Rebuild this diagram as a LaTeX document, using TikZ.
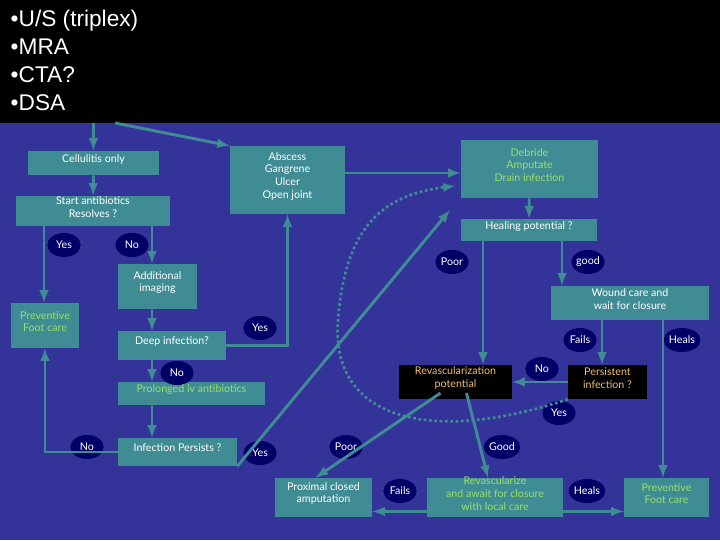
\documentclass[tikz,border=0pt]{standalone}
\usepackage{fontspec}
\setmainfont{Lato}
\setsansfont{Liberation Sans}
\usetikzlibrary{shapes, calc, arrows, fit, positioning}
\definecolor{slidebg}{RGB}{51,51,153}
\definecolor{boxteal}{RGB}{64,140,148}
\definecolor{ovalnavy}{RGB}{0,0,102}
\definecolor{txtgreen}{RGB}{153,224,102}
\definecolor{txtorange}{RGB}{240,190,110}

\begin{document}
\begin{tikzpicture}[x=0.75pt, y=-0.75pt, >=latex, font=\fontsize{8}{9.5}\selectfont,
    box/.style={draw=none, fill=boxteal, text=white, inner sep=0pt, align=center},
    gbox/.style={box, text=txtgreen},
    dark/.style={box, fill=black, text=txtorange},
    oval/.style={ellipse, fill=ovalnavy, text=white, minimum width=25pt, minimum height=18pt, inner sep=0pt},
    flow/.style={draw=boxteal, line width=2.2pt},
    loop/.style={draw=boxteal, line width=2pt, dotted}]
    \useasboundingbox (0,0) rectangle (720,540);
    \fill[slidebg] (0,0) rectangle (720,540);
    \node[fill=black, inner sep=0pt, fit={(0,0) (720,123)}] (hdr) {};
    \node[anchor=north west, align=left, text=white, font=\sffamily\fontsize{17}{21}\selectfont] (tests) at (6,5)
        {•U/S (triplex)\\•MRA\\•CTA?\\•DSA};

    % boxes
    \node[box, fit={(28,151) (159,175)}] (cell) {Cellulitis only};
    \node[box, fit={(16,196) (170,226)}] (start) {Start antibiotics\\Resolves ?};
    \node[box, fit={(230,146) (345,214)}] (abs) {Abscess\\Gangrene\\Ulcer\\Open joint};
    \node[gbox, fit={(461,140) (598,198)}] (deb) {Debride\\Amputate\\Drain infection};
    \node[box, fit={(461,219) (597,241)}] (heal) {Healing potential ?};
    \node[box, fit={(551,286) (709,320)}] (wound) {Wound care and\\wait for closure};
    \node[box, fit={(118,264) (197,309)}] (addimg) {Additional\\imaging};
    \node[gbox, fit={(11,303) (79,348)}] (prevL) {Preventive\\Foot care};
    \node[box, fit={(118,331) (226,360)}] (deep) {Deep infection?};
    \node[gbox, fit={(118,382) (265,405)}] (ivab) {Prolonged iv antibiotics};
    \node[box, fit={(118,438) (237,466)}] (inf) {Infection Persists ?};
    \node[dark, fit={(399,365) (512,399)}] (rpot) {Revascularization\\potential};
    \node[dark, fit={(568,365) (647,399)}] (pinf) {Persistent\\infection ?};
    \node[box, fit={(275,478) (372,517)}] (prox) {Proximal closed\\amputation};
    \node[gbox, fit={(427,478) (563,517)}] (revz) {Revascularize\\and await for closure\\with local care};
    \node[gbox, fit={(624,478) (709,517)}] (prevR) {Preventive\\Foot care};

    % answers
    \node[oval] (yes1) at (64,245) {Yes};
    \node[oval] (no1) at (132,245) {No};
    \node[oval] (poor1) at (452,262) {Poor};
    \node[oval] (good1) at (588,262) {good};
    \node[oval] (yes2) at (260,328) {Yes};
    \node[oval] (no2) at (177,373) {No};
    \node[oval] (fails1) at (580,340) {Fails};
    \node[oval] (heals1) at (682,340) {Heals};
    \node[oval] (no3) at (542,369) {No};
    \node[oval] (yes3) at (559,413) {Yes};
    \node[oval] (no4) at (87,447) {No};
    \node[oval] (yes4) at (260,453) {Yes};
    \node[oval] (poor2) at (346,447) {Poor};
    \node[oval] (good2) at (502,447) {Good};
    \node[oval] (fails2) at (400,491) {Fails};
    \node[oval] (heals2) at (587,491) {Heals};

    \coordinate (cA) at (44,0);
    \coordinate (cB) at (152,0);
    \coordinate (cE) at (483,0);
    \coordinate (cF) at (562,0);
    \coordinate (cG) at (602,0);
    \coordinate (cH) at (663,0);
    \coordinate (hdrout) at (115,123);
    \coordinate (dbtip) at (450,210);
    \coordinate (looptip) at (455,186);

    % connectors
    \draw[flow, ->] (hdr.south -| cell.north) -- (cell.north);
    \draw[flow, ->] (hdrout) -- (abs.north west);
    \draw[flow, ->] (cell) -- (start);
    \draw[flow, ->] (start.south -| cA) -- (prevL.north -| cA);
    \draw[flow, ->] (start.south -| cB) -- (addimg.north -| cB);
    \draw[flow, ->] (addimg.south -| cB) -- (deep.north -| cB);
    \draw[flow, ->] (deep.east) -| (abs.south);
    \draw[flow, ->] (deep.south -| cB) -- (ivab.north -| cB);
    \draw[flow, ->] (ivab.south -| cB) -- (inf.north -| cB);
    \draw[flow, ->] (inf.west) -| (prevL.south);
    \draw[flow, ->] (inf.south east) -- (dbtip);
    \draw[flow, ->] ([shift={(0,-7)}]abs.east) -- ([shift={(0,-7)}]abs.east -| deb.west);
    \draw[loop, ->] (pinf.south west) .. controls (430,445) and (330,420) .. (338,320)
        .. controls (345,230) and (380,195) .. (looptip);
    \draw[flow, ->] (deb) -- (heal);
    \draw[flow, ->] (heal.south -| cE) -- (rpot.north -| cE);
    \draw[flow, ->] (heal.south -| cF) -- (wound.north -| cF);
    \draw[flow, ->] (wound.south -| cG) -- (pinf.north -| cG);
    \draw[flow, ->] (wound.south -| cH) -- (prevR.north -| cH);
    \draw[flow, ->] (pinf.west) -- (rpot.east);
    \draw[flow, ->] ([shift={(-15,11)}]rpot.center) -- ([shift={(-8,0)}]prox.north);
    \draw[flow, ->] ([shift={(11,11)}]rpot.center) -- ([shift={(-7,0)}]revz.north);
    \draw[flow, ->] ([shift={(0,14)}]revz.west) -- ([shift={(0,14)}]prox.east);
    \draw[flow, ->] ([shift={(0,14)}]revz.east) -- ([shift={(0,14)}]prevR.west);
\end{tikzpicture}
\end{document}
